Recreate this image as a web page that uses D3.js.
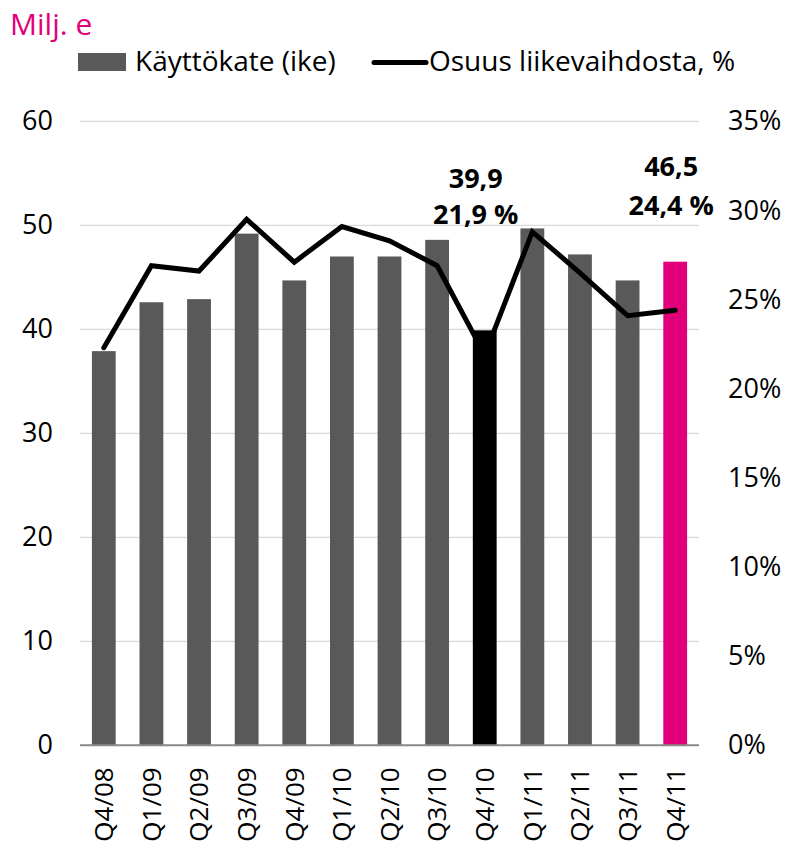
<!DOCTYPE html>
<html>
<head>
<meta charset="utf-8">
<script src="https://cdn.jsdelivr.net/npm/d3@7"></script>
<style>
  body { margin: 0; background: #fff; }
  text { font-family: "Open Sans", sans-serif; }
</style>
</head>
<body>
<svg width="793" height="848"></svg>
<script>
let svg = d3.select("svg");

let categories = ["Q4/08", "Q1/09", "Q2/09", "Q3/09", "Q4/09", "Q1/10", "Q2/10",
                  "Q3/10", "Q4/10", "Q1/11", "Q2/11", "Q3/11", "Q4/11"];
// Käyttökate (ike), milj. e
let ebitda = [37.9, 42.6, 42.9, 49.2, 44.7, 47.0, 47.0, 48.6, 39.9, 49.7, 47.2, 44.7, 46.5];
// Osuus liikevaihdosta, %
let share = [22.3, 26.9, 26.6, 29.5, 27.1, 29.1, 28.3, 26.9, 21.9, 28.8, 26.5, 24.1, 24.4];
let leftTicks = [0, 10, 20, 30, 40, 50, 60];
let rightTicks = [0, 5, 10, 15, 20, 25, 30, 35];
// highlighted quarters: index, value label, share label
let callouts = [
    {i: 8, top: "39,9", bottom: "21,9 %"},
    {i: 12, top: "46,5", bottom: "24,4 %"}
];

let pink = "#e2007a";

let x = d3.scaleBand()
    .domain(categories)
    .range([80, 699])
    .paddingInner(0.5)
    .paddingOuter(0.25);

let yLeft = d3.scaleLinear().domain([0, 60]).range([745.3, 121.3]);
let yRight = d3.scaleLinear().domain([0, 35]).range([745.3, 121.3]);

// gridlines
svg.append("g")
    .selectAll("line")
    .data(leftTicks.filter(d => d > 0))
    .enter().append("line")
    .attr("x1", 80).attr("x2", 699)
    .attr("y1", d => yLeft(d)).attr("y2", d => yLeft(d))
    .attr("stroke", "#d9d9d9")
    .attr("stroke-width", 1.3);

// left axis
let leftAxis = svg.append("g")
    .attr("transform", "translate(80,0)")
    .call(d3.axisLeft(yLeft).tickValues(leftTicks).tickSize(0).tickPadding(27));
leftAxis.select(".domain").remove();
leftAxis.selectAll("text")
    .attr("font-family", "Open Sans, sans-serif")
    .attr("font-size", 27)
    .attr("fill", "#000");

// right axis
let rightAxis = svg.append("g")
    .attr("transform", "translate(699,0)")
    .call(d3.axisRight(yRight).tickValues(rightTicks).tickSize(0).tickPadding(29)
        .tickFormat(d => d + "%"));
rightAxis.select(".domain").remove();
rightAxis.selectAll("text")
    .attr("font-family", "Open Sans, sans-serif")
    .attr("font-size", 27)
    .attr("fill", "#000");

// bars
svg.append("g")
    .selectAll("rect")
    .data(ebitda)
    .enter().append("rect")
    .attr("x", (d, i) => x(categories[i]))
    .attr("width", x.bandwidth())
    .attr("y", d => yLeft(d))
    .attr("height", d => yLeft(0) - yLeft(d))
    .attr("fill", (d, i) => i === 8 ? "#000" : (i === 12 ? pink : "#595959"));

// baseline
svg.append("line")
    .attr("x1", 80).attr("x2", 699)
    .attr("y1", yLeft(0)).attr("y2", yLeft(0))
    .attr("stroke", "#898989")
    .attr("stroke-width", 2);

// x labels
let xAxis = svg.append("g")
    .attr("transform", "translate(0," + yLeft(0) + ")")
    .call(d3.axisBottom(x).tickSize(0).tickPadding(0));
xAxis.select(".domain").remove();
xAxis.selectAll("text")
    .attr("font-family", "DejaVu Sans, sans-serif")
    .attr("font-size", 26)
    .attr("fill", "#000")
    .attr("text-anchor", "end")
    .attr("transform", "rotate(-90)")
    .attr("x", -22)
    .attr("y", 0)
    .attr("dy", "0.36em");

// share line
let line = d3.line()
    .x((d, i) => x(categories[i]) + x.bandwidth() / 2)
    .y(d => yRight(d));

svg.append("path")
    .datum(share)
    .attr("d", line)
    .attr("fill", "none")
    .attr("stroke", "#000")
    .attr("stroke-width", 5)
    .attr("stroke-linecap", "round")
    .attr("stroke-linejoin", "miter");

// callout labels
let labels = svg.append("g")
    .selectAll("g")
    .data(callouts)
    .enter().append("g")
    .attr("font-size", 27)
    .attr("font-weight", "bold")
    .attr("text-anchor", "middle");
labels.append("text")
    .attr("x", d => x(categories[d.i]) + x.bandwidth() / 2 - (d.i === 8 ? 9 : 4))
    .attr("y", d => d.i === 8 ? 188 : 176)
    .attr("font-family", "Liberation Sans, Arial, sans-serif")
    .text(d => d.top);
labels.append("text")
    .attr("x", d => x(categories[d.i]) + x.bandwidth() / 2 - (d.i === 8 ? 9 : 4))
    .attr("y", d => d.i === 8 ? 224 : 215)
    .attr("font-family", "Liberation Sans, Arial, sans-serif")
    .text(d => d.bottom);

// title
svg.append("text")
    .attr("x", 10)
    .attr("y", 35)
    .attr("font-size", 30)
    .attr("fill", pink)
    .text("Milj. e");

// legend
svg.append("rect")
    .attr("x", 78).attr("y", 53)
    .attr("width", 48).attr("height", 18)
    .attr("fill", "#595959");
svg.append("text")
    .attr("x", 135).attr("y", 71)
    .attr("font-size", 28)
    .text("Käyttökate (ike)");
svg.append("line")
    .attr("x1", 374).attr("x2", 426)
    .attr("y1", 62.5).attr("y2", 62.5)
    .attr("stroke", "#000")
    .attr("stroke-width", 5)
    .attr("stroke-linecap", "round");
svg.append("text")
    .attr("x", 429).attr("y", 71)
    .attr("font-size", 28)
    .text("Osuus liikevaihdosta, %");
</script>
</body>
</html>
